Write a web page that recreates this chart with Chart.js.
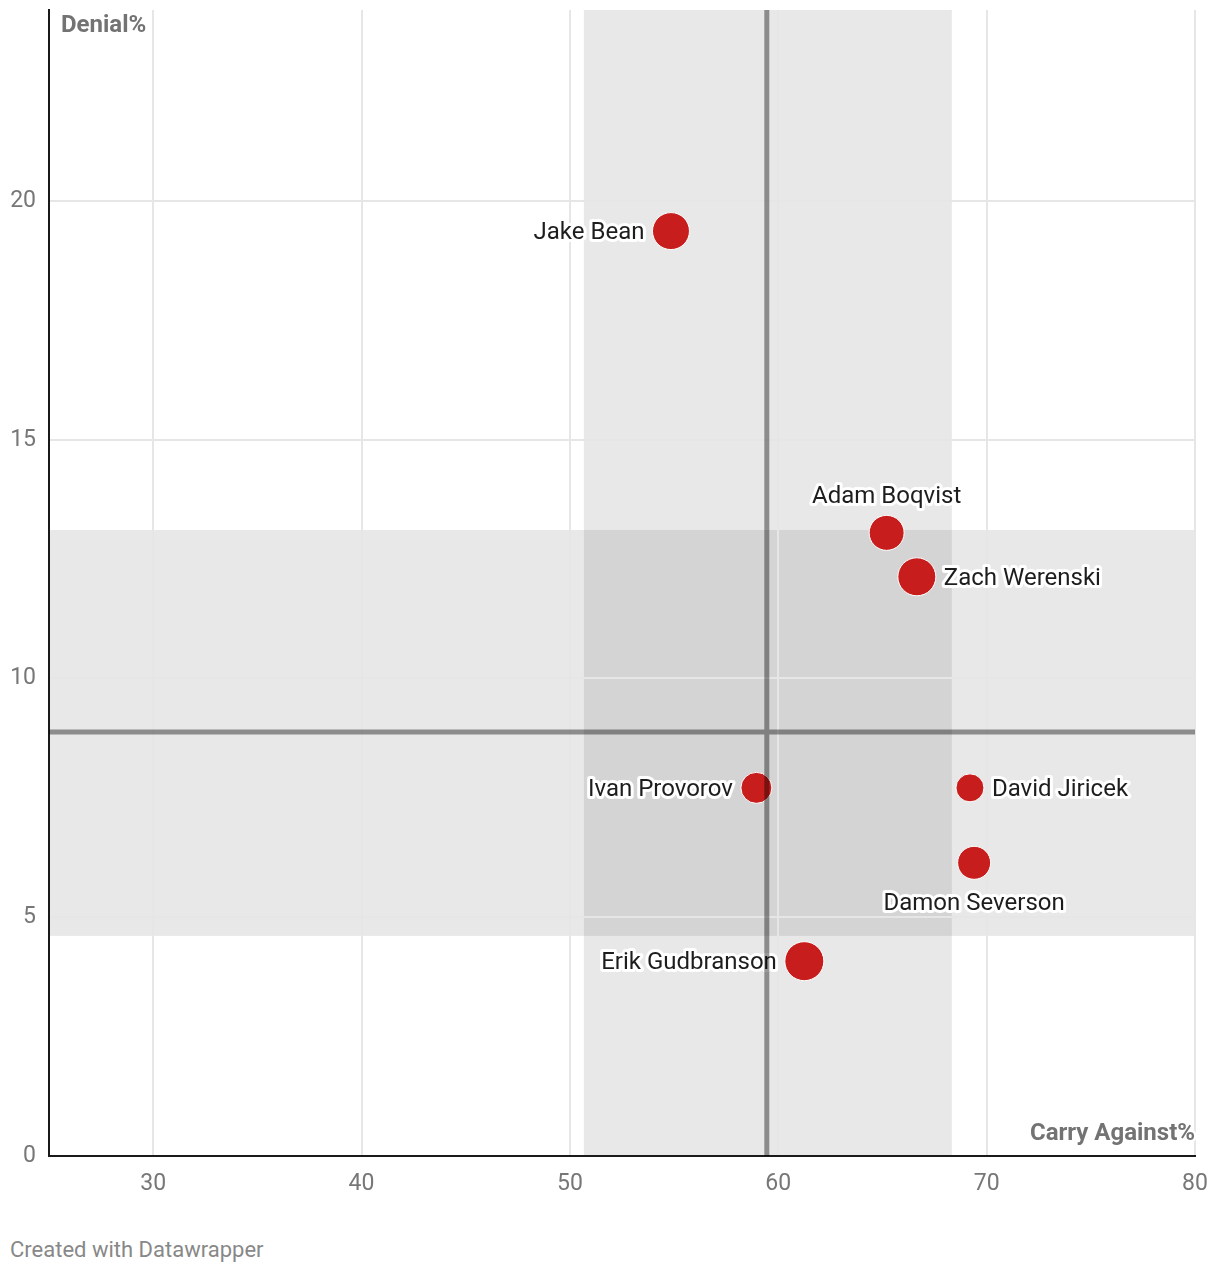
<!DOCTYPE html>
<html>
<head>
<meta charset="utf-8">
<script src="https://cdn.jsdelivr.net/npm/chart.js@4.4.1/dist/chart.umd.min.js"></script>
<style>
  body { margin: 0; background: #fff; font-family: Roboto, sans-serif; }
  #wrap { position: relative; width: 1220px; height: 1272px; }
  #chart { position: absolute; left: 0; top: 0; }
  #footer { position: absolute; left: 10px; top: 1237px; font-size: 22px; color: #888; }
</style>
</head>
<body>
<div id="wrap">
  <canvas id="chart" width="1220" height="1200"></canvas>
  <div id="footer">Created with Datawrapper</div>
</div>
<script>
// players
const players = ['Jake Bean', 'Adam Boqvist', 'Zach Werenski', 'Ivan Provorov', 'David Jiricek', 'Damon Severson', 'Erik Gudbranson'];
const carryAgainst = [54.85, 65.2, 66.65, 58.95, 69.2, 69.4, 61.25];
const denial = [19.37, 13.05, 12.13, 7.71, 7.71, 6.14, 4.08];
const bubbleSize = [18.5, 17.5, 19, 15.5, 14, 16.5, 19.5];

// axes
const xTicks = [30, 40, 50, 60, 70, 80];
const yTicks = [0, 5, 10, 15, 20];

// averages and ranges
const xAvg = 59.45;
const xRange = [50.67, 68.33];
const yAvg = 8.88;
const yRange = [4.61, 13.11];

// where each label goes
const labelSide = {
    'Jake Bean': 'left',
    'Adam Boqvist': 'top',
    'Zach Werenski': 'right',
    'Ivan Provorov': 'left',
    'David Jiricek': 'right',
    'Damon Severson': 'bottom',
    'Erik Gudbranson': 'left'
};

const points = players.map((p, i) => ({ x: carryAgainst[i], y: denial[i], r: bubbleSize[i], name: p }));

const bandsPlugin = {
    id: 'bands',
    beforeDraw(chart) {
        const { ctx, chartArea: a, scales: { x, y } } = chart;
        ctx.save();
        ctx.fillStyle = 'rgba(0,0,0,0.09)';
        ctx.fillRect(x.getPixelForValue(xRange[0]), a.top, x.getPixelForValue(xRange[1]) - x.getPixelForValue(xRange[0]), a.bottom - a.top);
        ctx.fillRect(a.left, y.getPixelForValue(yRange[1]), a.right - a.left, y.getPixelForValue(yRange[0]) - y.getPixelForValue(yRange[1]));
        ctx.restore();
    }
};

const overlayPlugin = {
    id: 'overlay',
    afterDatasetsDraw(chart) {
        const { ctx, chartArea: a, scales: { x, y } } = chart;
        ctx.save();

        // labels with white halo
        ctx.font = '24px Roboto';
        ctx.lineJoin = 'round';
        points.forEach(p => {
            const px = x.getPixelForValue(p.x);
            const py = y.getPixelForValue(p.y) + 2;
            const side = labelSide[p.name];
            let tx = px, ty = py;
            if (side === 'left') { ctx.textAlign = 'right'; tx = px - p.r - 8; }
            else if (side === 'right') { ctx.textAlign = 'left'; tx = px + p.r + 8; }
            else { ctx.textAlign = 'center'; ty = side === 'top' ? py - p.r - 20 : py + p.r + 23; }
            ctx.textBaseline = 'middle';
            ctx.strokeStyle = '#fff';
            ctx.lineWidth = 6;
            ctx.strokeText(p.name, tx, ty);
            ctx.fillStyle = '#1d1d1d';
            ctx.fillText(p.name, tx, ty);
        });

        // average lines
        ctx.strokeStyle = 'rgba(0,0,0,0.4)';
        ctx.lineWidth = 5;
        ctx.beginPath();
        const vx = x.getPixelForValue(xAvg);
        ctx.moveTo(vx, a.top);
        ctx.lineTo(vx, a.bottom);
        const hy = y.getPixelForValue(yAvg);
        ctx.moveTo(a.left, hy);
        ctx.lineTo(a.right, hy);
        ctx.stroke();

        // axis titles
        ctx.font = 'bold 24px Roboto';
        ctx.fillStyle = '#737373';
        ctx.textBaseline = 'middle';
        ctx.textAlign = 'left';
        ctx.fillText('Denial%', a.left + 12, a.top + 16);
        ctx.textAlign = 'right';
        ctx.strokeStyle = '#fff';
        ctx.lineWidth = 5;
        ctx.strokeText('Carry Against%', a.right, a.bottom - 22);
        ctx.fillText('Carry Against%', a.right, a.bottom - 22);
        ctx.restore();
    }
};

new Chart(document.getElementById('chart'), {
    type: 'bubble',
    data: {
        datasets: [{
            data: points,
            backgroundColor: '#c71e1d',
            borderColor: '#fff',
            borderWidth: 1
        }]
    },
    options: {
        responsive: false,
        animation: false,
        events: [],
        layout: { autoPadding: false, padding: { top: 10, right: 25, left: 0, bottom: 0 } },
        plugins: { legend: { display: false }, tooltip: { enabled: false } },
        scales: {
            x: {
                type: 'linear',
                min: 25,
                max: 80,
                afterBuildTicks: s => { s.ticks = xTicks.map(v => ({ value: v })); },
                afterFit: s => { s.height = 44; s.paddingLeft = 0; s.paddingRight = 0; },
                grid: { color: '#e6e6e6', lineWidth: 2, drawTicks: false },
                border: { display: true, color: '#1a1a1a', width: 2 },
                ticks: { color: '#777', font: { family: 'Roboto', size: 23 }, padding: 14 }
            },
            y: {
                type: 'linear',
                min: 0,
                max: 24,
                afterBuildTicks: s => { s.ticks = yTicks.map(v => ({ value: v })); },
                afterFit: s => { s.width = 49; s.paddingTop = 0; s.paddingBottom = 0; },
                grid: { color: '#e6e6e6', lineWidth: 2, drawTicks: false },
                border: { display: true, color: '#1a1a1a', width: 2 },
                ticks: { color: '#777', font: { family: 'Roboto', size: 23 }, padding: 13 }
            }
        }
    },
    plugins: [bandsPlugin, overlayPlugin]
});
</script>
</body>
</html>
